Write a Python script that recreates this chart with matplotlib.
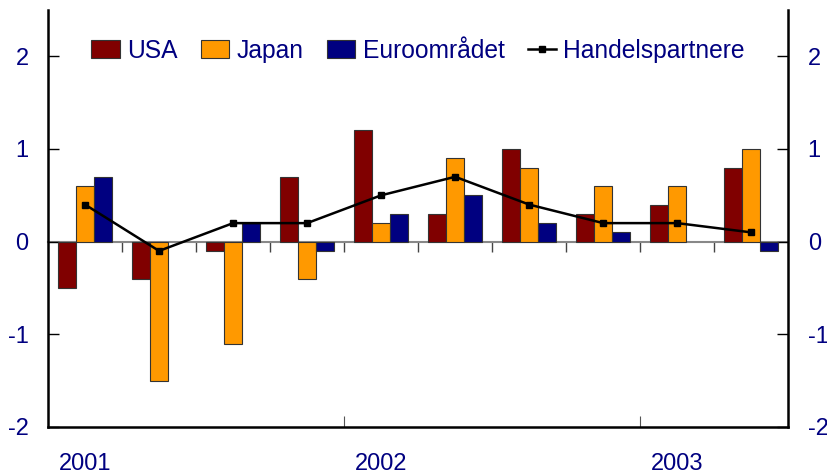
import numpy as np
import matplotlib
matplotlib.use("Agg")
import matplotlib.pyplot as plt

plt.rcParams['font.family'] = ['Liberation Sans', 'DejaVu Sans']

# quarterly values, 2001 Q1 - 2003 Q2
usa = [-0.5, -0.4, -0.1, 0.7, 1.2, 0.3, 1.0, 0.3, 0.4, 0.8]
japan = [0.6, -1.5, -1.1, -0.4, 0.2, 0.9, 0.8, 0.6, 0.6, 1.0]
euro = [0.7, 0.0, 0.2, -0.1, 0.3, 0.5, 0.2, 0.1, 0.0, -0.1]
handel = [0.4, -0.1, 0.2, 0.2, 0.5, 0.7, 0.4, 0.2, 0.2, 0.1]
years = ['2001', '2002', '2003']
year_pos = [0, 4, 8]

navy = '#000080'
txt = navy
fs = 16.5

fig = plt.figure(figsize=(8.28, 4.76), dpi=100)
ax = fig.add_axes([0.058, 0.103, 0.894, 0.876])

x = np.arange(len(usa))
w = 0.245
ax.bar(x - w, usa, w, color='#800000', edgecolor='#333333', linewidth=0.8, label='USA', zorder=3)
ax.bar(x, japan, w, color='#FF9900', edgecolor='#333333', linewidth=0.8, label='Japan', zorder=3)
# skip zero-height bars so no edge line is drawn
euro_plot = [v if v != 0 else np.nan for v in euro]
ax.bar(x + w, euro_plot, w, color=navy, edgecolor='#333333', linewidth=0.8, label='Euroområdet', zorder=3)
ax.plot(x, handel, color='black', lw=1.8, marker='s', ms=5, label='Handelspartnere', zorder=4)

ax.set_xlim(-0.5, len(usa) - 0.5)
ax.set_ylim(-2, 2.5)
ax.set_yticks([-2, -1, 0, 1, 2])
ax.set_yticklabels(['-2', '-1', '0', '1', '2'])
ax.tick_params(axis='y', direction='in', length=8, width=1, colors='black',
               labelcolor=txt, labelsize=fs + 0.5, pad=14, right=True, labelright=True)

# bottom axis: year boundaries, labels at first quarter
ax.set_xticks([3.5, 7.5])
ax.set_xticklabels([])
ax.tick_params(axis='x', direction='in', length=8, width=0.8, colors='#555555')
for pos, yr in zip(year_pos, years):
    ax.text(pos, -2.4, yr, ha='center', va='center', fontsize=fs + 0.5, color=txt)

for s in ['left', 'right', 'bottom']:
    ax.spines[s].set_linewidth(1.8)
ax.spines['top'].set_visible(False)

# zero line with quarter ticks
ax0 = ax.twiny()
ax0.set_xlim(ax.get_xlim())
ax0.spines['bottom'].set_position(('data', 0))
ax0.spines['bottom'].set_color('#888888')
ax0.spines['bottom'].set_linewidth(1.5)
for s in ['top', 'left', 'right']:
    ax0.spines[s].set_visible(False)
ax0.xaxis.set_ticks_position('bottom')
ax0.set_xticks(np.arange(0.5, len(usa) - 0.5, 1))
ax0.set_xticklabels([])
ax0.tick_params(axis='x', direction='out', length=7, width=1, colors='#444444')
ax0.set_zorder(ax.get_zorder() - 1)
ax.patch.set_visible(False)

handles, labels = ax.get_legend_handles_labels()
order = [1, 2, 3, 0]
leg = ax.legend([handles[i] for i in order], [labels[i] for i in order],
                loc='upper center', bbox_to_anchor=(0.5, 0.955), ncol=4, frameon=False,
                fontsize=fs + 1.2, handlelength=1.15, handleheight=0.8, handletextpad=0.3,
                columnspacing=0.95, borderaxespad=0)
for t in leg.get_texts():
    t.set_color(txt)

fig.savefig('out.png', dpi=100)
